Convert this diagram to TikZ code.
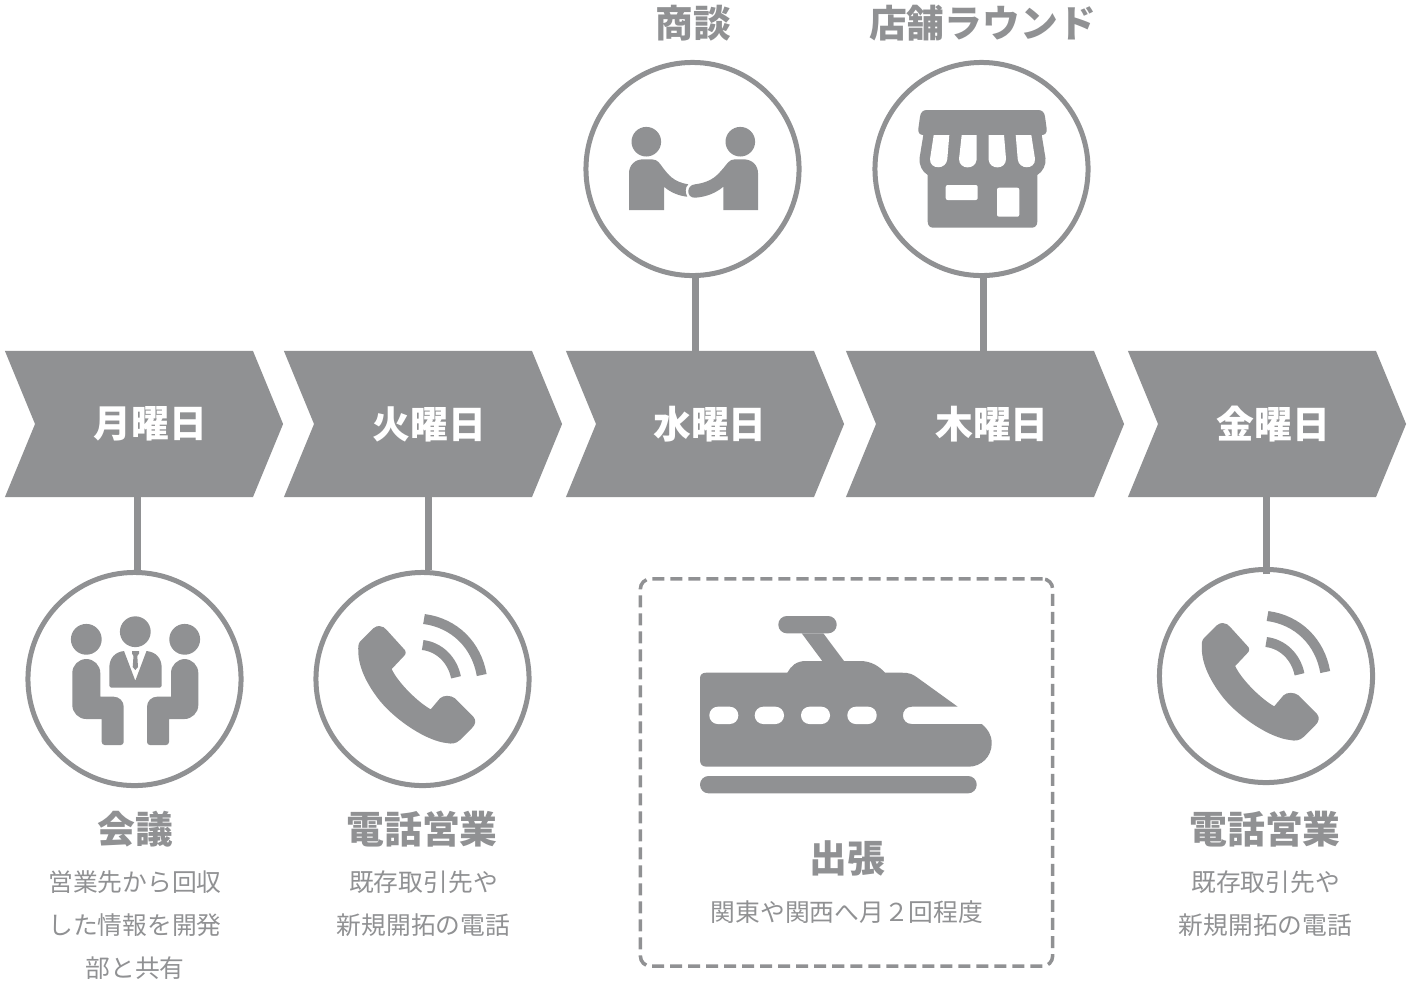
\documentclass[tikz,border=0pt]{standalone}
\usepackage{fontspec}
\usepackage{xcolor}
\usetikzlibrary{shapes.symbols}
\setmainfont{Noto Sans CJK JP}
\definecolor{icongray}{HTML}{909193}
\newcommand{\headfont}{\fontsize{10.75}{12}\selectfont\bfseries}
\newcommand{\bodyfont}{\fontsize{7.04}{12.23}\selectfont}
\tikzset{
  chevron/.style={signal,signal from=west,signal to=east,signal pointer angle=135.2,
    fill=icongray,minimum width=2.78cm,minimum height=1.46cm,inner sep=0pt,outer sep=0pt},
  daylabel/.style={font=\headfont,text=white,inner sep=0pt},
  ring/.style={circle,draw=icongray,line width=0.05cm,fill=white,minimum size=2.13cm,inner sep=0pt,outer sep=0pt},
  stem/.style={draw=icongray,line width=0.07cm},
  headtext/.style={font=\headfont,text=icongray,inner sep=0pt},
  bodytext/.style={font=\bodyfont,text=icongray,align=center,inner sep=0pt},
  tripbox/.style={draw=icongray,line width=0.035cm,dash pattern=on 0.12cm off 0.06cm,rounded corners=0.1cm,
    minimum width=4.12cm,minimum height=3.87cm,inner sep=0pt},
  iconfill/.style={fill=icongray},
  phoneicon/.pic={
    \fill[iconfill] (-43.2,-53) .. controls (-40,-53) and (-37.5,-51) .. (-35.8,-49) -- (-19.2,-30.7)
      .. controls (-16,-28) and (-16,-25) .. (-19.2,-22.3) -- (-30.8,-10)
      .. controls (-25,3) and (-5,23) .. (8.2,30.3) -- (17.5,19.3)
      .. controls (21,16) and (28,16) .. (32.5,19.3) -- (50.8,37.7)
      .. controls (54,41) and (53,46) .. (49.2,49.3) -- (37.5,61)
      .. controls (33,65) and (29,65) .. (24,64)
      .. controls (5,62) and (-25,43) .. (-42.5,22)
      .. controls (-56,5) and (-64,-12) .. (-64.2,-27.3)
      .. controls (-64.5,-32) and (-64,-36) .. (-62.5,-37.3) -- (-49.2,-50.7)
      .. controls (-47,-52.5) and (-45,-53) .. (-43.2,-53) -- cycle;
    \draw[icongray,line width=0.1cm] (1.5,-60) .. controls (32,-56) and (54,-34) .. (59.2,-4);
    \draw[icongray,line width=0.1cm] (0.2,-34) .. controls (17,-32) and (30,-19) .. (33.5,-1.7);
  }
}
\begin{document}
\begin{tikzpicture}[x=0.01cm,y=-0.01cm]
    \useasboundingbox (0,0) rectangle (1410,984);
    % days
    \node[chevron] (mon) at (144,424) {};
    \node[chevron] (tue) at (423,424) {};
    \node[chevron] (wed) at (705,424) {};
    \node[chevron] (thu) at (985,424) {};
    \node[chevron] (fri) at (1267,424) {};
    \node[daylabel] (monlabel) at (150.5,424) {月曜日};
    \node[daylabel] (tuelabel) at (429.5,424) {火曜日};
    \node[daylabel] (wedlabel) at (710,424) {水曜日};
    \node[daylabel] (thulabel) at (992,424) {木曜日};
    \node[daylabel] (frilabel) at (1273.5,424) {金曜日};
    % rings
    \node[ring] (talks) at (692.5,169) {};
    \node[ring] (round) at (981.5,169) {};
    \node[ring] (meeting) at (134.5,679) {};
    \node[ring] (calls) at (422.5,679) {};
    \node[ring] (callsfri) at (1266,676) {};
    \draw[stem] ([xshift=0.025cm,yshift=0.03cm]talks.south) -- ([xshift=0.025cm]talks.south |- wed.north);
    \draw[stem] ([xshift=0.015cm,yshift=0.03cm]round.south) -- ([xshift=0.015cm]round.south |- thu.north);
    \draw[stem] ([xshift=0.03cm,yshift=0.025cm]meeting.north) -- ([xshift=0.03cm]meeting.north |- mon.south);
    \draw[stem] ([xshift=0.055cm,yshift=0.025cm]calls.north) -- ([xshift=0.055cm]calls.north |- tue.south);
    \draw[stem] ([yshift=-0.05cm]callsfri.north) -- (callsfri.north |- fri.south);
    % handshake
    \fill[iconfill] (646.3,141.7) circle[radius=14.8];
    \fill[iconfill] (740.3,141.7) circle[radius=14.8];
    \fill[iconfill] (629,210) -- (629,173.3) .. controls (629,165) and (635,159.3) .. (643.3,159.3) -- (651.7,159.3)
      .. controls (658,159.3) and (660,164) .. (663.3,168.3) .. controls (668,174) and (673,182) .. (688.3,184.3)
      .. controls (685,187) and (685,193) .. (687.3,196.7) .. controls (680,196) and (671,193) .. (664,186.7) -- (664,210) -- cycle;
    \fill[iconfill] (758,210) -- (758,173.3) .. controls (758,165) and (752,159.3) .. (743.3,159.3) -- (735,159.3)
      .. controls (729,159.3) and (727,164) .. (723.3,168.3) .. controls (718,174) and (713,182) .. (695,184.3)
      .. controls (686,185) and (686,198) .. (695,197.7) .. controls (706,197) and (716,193) .. (723.3,186.7) -- (723.3,210) -- cycle;
    % shop
    \fill[iconfill] (926.7,110) -- (1038.3,110) .. controls (1042,110) and (1044.5,112.5) .. (1045,116.7) -- (1046.7,129)
      .. controls (1047,133) and (1045,135) .. (1041.7,135) -- (1045.5,158.3) .. controls (1046,165) and (1043,171.5) .. (1037.3,175)
      -- (1037.3,221.7) .. controls (1037.3,225.5) and (1035,227.7) .. (1031.7,227.7) -- (933.3,227.7)
      .. controls (930,227.7) and (927.7,225.5) .. (927.7,221.7) -- (927.7,175) .. controls (922,171.5) and (919,165) .. (919.5,158.3)
      -- (923.3,135) .. controls (920,135) and (918,133) .. (918.3,129) -- (920,116.7) .. controls (920.5,112.5) and (923,110) .. (926.7,110) -- cycle;
    \fill[white] (933.7,135) -- (949.3,135) -- (947.3,159) .. controls (946.5,170) and (929.5,170) .. (930,159) -- cycle;
    \fill[white] (961.7,135) -- (976.7,135) -- (976.5,160) .. controls (975.5,170) and (959,170) .. (959,159) -- cycle;
    \fill[white] (988.7,135) -- (1004,135) -- (1006,159) .. controls (1006,170) and (989.5,170) .. (988.7,160) -- cycle;
    \fill[white] (1015.7,135) -- (1031.3,135) -- (1035,159) .. controls (1035.5,170) and (1018.5,170) .. (1017.7,159) -- cycle;
    \fill[white,rounded corners=0.02cm] (945.7,185) rectangle (977.7,200);
    \fill[white,rounded corners=0.02cm] (997,187.7) rectangle (1019.3,216.7);
    % meeting
    \fill[iconfill] (135.3,631.7) circle[radius=15.4];
    \fill[iconfill] (86.3,639.3) circle[radius=15.4];
    \fill[iconfill] (184.7,639.3) circle[radius=15.4];
    \fill[iconfill] (72.3,690) [rounded corners=0.14cm] -- (72.3,659) -- (100.3,659) [sharp corners] -- (100.3,696.7)
      [rounded corners=0.1cm] -- (123.7,696.7) [rounded corners=0.03cm] -- (123.7,745) -- (101.7,745) [sharp corners] -- (101.7,719)
      [rounded corners=0.14cm] -- (72.3,719) -- cycle;
    \fill[iconfill] (198.3,690) [rounded corners=0.14cm] -- (198.3,659) -- (171,659) [sharp corners] -- (171,696.7)
      [rounded corners=0.1cm] -- (147,696.7) [rounded corners=0.03cm] -- (147,745) -- (169,745) [sharp corners] -- (169,719)
      [rounded corners=0.14cm] -- (198.3,719) -- cycle;
    \fill[iconfill] (111,687.7) .. controls (110,687.7) and (109.3,687) .. (109.3,686) -- (109.3,668)
      .. controls (109.3,658) and (115,652) .. (124,651) -- (135.3,680.7) -- (146.5,651)
      .. controls (156,652) and (161.7,658) .. (161.7,668) -- (161.7,686) .. controls (161.7,687) and (161,687.7) .. (160,687.7) -- cycle;
    \fill[iconfill] (132,651) -- (139,651) -- (139,653.5) -- (137.3,656) -- (138,667) -- (135.3,670) -- (132.7,667) -- (133.5,656) -- (132,653.5) -- cycle;
    % phones
    \pic at (calls) {phoneicon};
    \pic at (callsfri) {phoneicon};
    % trip box
    \node[tripbox] (trip) at (846.5,772.5) {};
    \fill[iconfill,rounded corners=0.085cm] (778.3,616) rectangle (836.7,633.3);
    \fill[iconfill] (801.7,633.3) -- (823.3,633.3) -- (844,661) -- (822.3,661) -- cycle;
    \fill[iconfill] (706,672.7) -- (787.3,672.7) .. controls (791,666) and (796,661) .. (806,661) -- (860,661)
      .. controls (871,661) and (879,666) .. (885,672.7) -- (902,672.7) .. controls (909,672.7) and (913,674) .. (918.3,678.3)
      -- (957.7,706.7) -- (911.7,706.7) .. controls (900,706.7) and (900,724) .. (911.7,724) -- (981.7,724)
      .. controls (988,729) and (991.7,735) .. (991.7,743.3) .. controls (991.7,757) and (981,766.7) .. (968.3,766.7)
      -- (706.7,766.7) .. controls (702,766.7) and (700,764) .. (700,760) -- (700,678.3) .. controls (700,675) and (702,672.7) .. (706,672.7) -- cycle;
    \fill[white,rounded corners=0.085cm] (709.3,706.7) rectangle (738.3,724);
    \fill[white,rounded corners=0.085cm] (754.7,706.7) rectangle (784,724);
    \fill[white,rounded corners=0.085cm] (801,706.7) rectangle (830,724);
    \fill[white,rounded corners=0.085cm] (847.3,706.7) rectangle (876.7,724);
    \fill[iconfill,rounded corners=0.085cm] (700,776) rectangle (976.7,793.3);
    % texts
    \node[headtext] (talkstitle) at (693,23) {商談};
    \node[headtext] (roundtitle) at (982.5,23) {店舗ラウンド};
    \node[headtext] (meetingtitle) at (135,829) {会議};
    \node[bodytext] (meetingtext) at (135,925.5) {営業先から回収\\した情報を開発\\部と共有};
    \node[headtext] (callstitle) at (422,829) {電話営業};
    \node[bodytext] (callstext) at (423.5,904) {既存取引先や\\新規開拓の電話};
    \node[headtext] (triptitle) at (847,858) {出張};
    \node[bodytext] (triptext) at (847,912.5) {関東や関西へ月２回程度};
    \node[headtext] (callsfrititle) at (1265,829) {電話営業};
    \node[bodytext] (callsfritext) at (1265.5,904) {既存取引先や\\新規開拓の電話};
\end{tikzpicture}
\end{document}
